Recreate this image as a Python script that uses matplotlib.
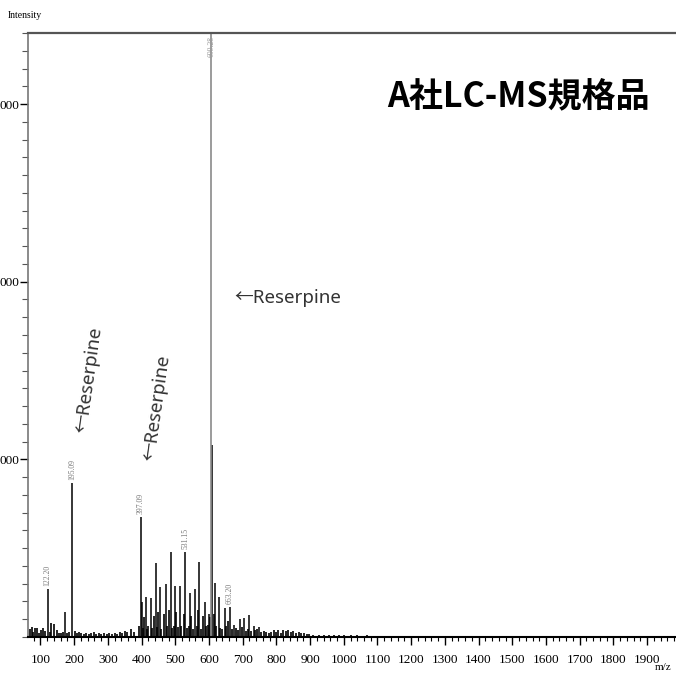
import matplotlib
matplotlib.use("Agg")
import matplotlib.pyplot as plt
from matplotlib.ticker import MultipleLocator

# main peaks (m/z, intensity)
peak_mz = [121, 173, 194, 397, 400, 412, 427, 442, 455, 471,
           487, 499, 514, 530, 544, 559, 571, 587, 600, 608,
           618, 629, 647, 662, 674, 692, 704, 720, 734, 749]
peak_int = [270, 140, 867, 677, 197, 227, 220, 415, 283, 298,
            480, 289, 289, 480, 247, 270, 424, 199, 130, 1080,
            303, 227, 163, 170, 68, 101, 105, 124, 62, 58]
base_mz = 607          # base peak, runs off the top
base_int = 3600

# baseline / small ions
noise_mz = [68, 74, 79, 85, 90, 96, 103, 108, 114, 127,
            131, 139, 150, 156, 162, 168, 179, 185, 201, 207,
            213, 220, 228, 236, 243, 251, 258, 266, 274, 281,
            289, 297, 304, 312, 320, 327, 335, 342, 350, 356,
            370, 377, 391, 404, 408, 416, 420, 431, 437, 446,
            450, 459, 466, 475, 481, 490, 495, 503, 509, 518,
            525, 534, 540, 548, 554, 563, 567, 575, 582, 591,
            597, 603, 614, 622, 634, 640, 652, 657, 667, 680,
            685, 697, 710, 715, 725, 738, 743, 755, 762, 770,
            777, 785, 792, 799, 806, 813, 820, 828, 835, 842,
            850, 858, 866, 874, 882, 890, 898, 910, 925, 940,
            955, 970, 985, 1000, 1020, 1040, 1055, 1070, 1090, 1110,
            1140, 1170, 1200, 1240, 1300, 1360, 1420, 1480, 1540, 1600,
            1660, 1720, 1780, 1840, 1900, 1960]
noise_int = [45, 55, 30, 50, 48, 25, 40, 52, 35, 30,
             80, 75, 40, 25, 25, 30, 20, 28, 35, 20,
             30, 22, 18, 25, 15, 20, 28, 18, 22, 15,
             20, 18, 25, 15, 22, 18, 30, 25, 35, 28,
             45, 30, 60, 50, 110, 45, 60, 50, 120, 55,
             140, 45, 130, 60, 150, 50, 60, 140, 55, 60,
             130, 50, 60, 120, 45, 60, 150, 45, 120, 60,
             70, 110, 130, 60, 50, 45, 60, 90, 45, 50,
             40, 55, 35, 45, 35, 40, 45, 30, 35, 30,
             25, 30, 40, 30, 38, 25, 40, 35, 38, 30,
             32, 25, 28, 20, 22, 15, 18, 12, 14, 10,
             12, 9, 10, 12, 10, 12, 8, 10, 7, 8,
             6, 7, 6, 5, 5, 5, 4, 4, 5, 4,
             4, 4, 3, 4, 3, 3]

label_mz = [121, 194, 397, 530, 662]
label_int = [270, 867, 677, 480, 170]
label_txt = ["122.20", "195.09", "397.09", "531.15", "663.20"]

W, H = 676, 681
SERIF = ["Liberation Serif", "DejaVu Serif"]
JP = ["Noto Sans CJK JP", "DejaVu Sans"]
SANS = ["Noto Sans", "Noto Sans CJK JP", "DejaVu Sans"]

fig = plt.figure(figsize=(W / 100, H / 100), dpi=100)
ax = fig.add_axes([28 / W, 1 - 637 / H, (700 - 28) / W, (637 - 33) / H])

ax.vlines(noise_mz, 0, noise_int, color="black", lw=1.2)
ax.vlines(peak_mz, 0, peak_int, color="black", lw=1.1)
ax.vlines([base_mz], 0, [base_int], color="#8a8a8a", lw=1.2)

for m, h, t in zip(label_mz, label_int, label_txt):
    ax.text(m, h + 15, t, rotation=90, ha="center", va="bottom",
            fontsize=5.5, color="#777777", family=SERIF)
ax.text(base_mz + 1, 3385, "609.28", rotation=90, ha="center", va="top",
        fontsize=5.5, color="#999999", family=SERIF)

ax.set_xlim(63, 2057)
ax.set_ylim(0, 3400)
ax.xaxis.set_minor_locator(MultipleLocator(20))
ax.yaxis.set_minor_locator(MultipleLocator(100))
ax.set_xticks(range(100, 2000, 100))
ax.set_xticklabels([str(v) for v in range(100, 2000, 100)])
# the reference crop shows only the last three digits of each label
ax.set_yticks([1000, 2000, 3000])
ax.set_yticklabels(["000", "000", "000"])
ax.tick_params(axis="x", which="major", length=6, width=1, pad=6, labelsize=9.5)
ax.tick_params(axis="x", which="minor", length=3, width=0.8)
ax.tick_params(axis="y", which="major", length=6, width=1, pad=0, labelsize=9.5)
ax.tick_params(axis="y", which="minor", length=4, width=0.8, color="#555555")
for lab in ax.get_xticklabels() + ax.get_yticklabels():
    lab.set_family(SERIF)

ax.spines["right"].set_visible(False)
ax.spines["top"].set_color("#555555")
ax.spines["top"].set_linewidth(1.6)
ax.spines["left"].set_color("#777777")
ax.spines["left"].set_linewidth(1.2)
ax.spines["bottom"].set_linewidth(1.5)

fig.text(8 / W, 1 - 15 / H, "Intensity", fontsize=7, family=SERIF, va="center")
fig.text(655 / W, 1 - 668 / H, "m/z", fontsize=8, family=SERIF, va="center")

fig.text(518 / W, 1 - 97 / H, "A社LC-MS規格品", fontsize=24.5, fontweight="bold",
         family=JP, ha="center", va="center")
fig.text(234 / W, 1 - 298 / H, "←Reserpine", fontsize=13.5, color="#333333",
         family=SANS, ha="left", va="center")
fig.text(89 / W, 1 - 380 / H, "←Reserpine", fontsize=13.5, color="#333333",
         family=SANS, ha="center", va="center", rotation=82, rotation_mode="anchor")
fig.text(157 / W, 1 - 408 / H, "←Reserpine", fontsize=13.5, color="#333333",
         family=SANS, ha="center", va="center", rotation=82, rotation_mode="anchor")

fig.savefig("out.png", dpi=100)
